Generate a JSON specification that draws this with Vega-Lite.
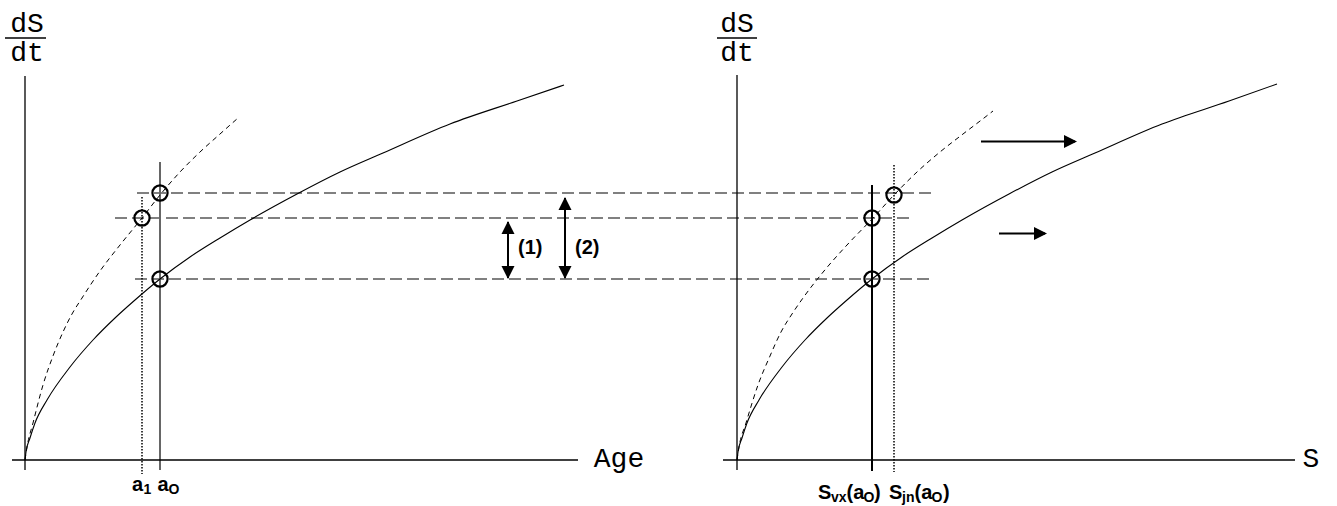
{
  "$schema": "https://vega.github.io/schema/vega-lite/v6.json",
  "width": 1337,
  "height": 506,
  "autosize": {"type": "fit", "contains": "padding"},
  "padding": 0,
  "background": "white",
  "config": {"view": {"stroke": null}},
  "datasets": {
    "levels": [
      {"level": "high", "x": 137, "x2": 931, "y": 193},
      {"level": "mid", "x": 115, "x2": 909, "y": 218},
      {"level": "low", "x": 135, "x2": 930, "y": 279}
    ],
    "guides": [
      {"id": "aO", "x": 160, "top": 162, "bottom": 470},
      {"id": "a1", "x": 142, "top": 197, "bottom": 474},
      {"id": "SvxaO", "x": 872, "top": 185, "bottom": 471},
      {"id": "SjnaO", "x": 894, "top": 165, "bottom": 472}
    ],
    "axes": [
      {"x": 25, "x2": 25, "y": 76, "y2": 470},
      {"x": 12, "x2": 578, "y": 460, "y2": 460},
      {"x": 737, "x2": 737, "y": 75, "y2": 470},
      {"x": 723, "x2": 1295, "y": 460, "y2": 460},
      {"x": 5, "x2": 46, "y": 38, "y2": 38},
      {"x": 717, "x2": 757, "y": 38, "y2": 38}
    ],
    "growth": [
      {"panel": "age", "series": "solid", "x": 25, "y": 460},
      {"panel": "age", "series": "solid", "x": 26, "y": 452},
      {"panel": "age", "series": "solid", "x": 30, "y": 438},
      {"panel": "age", "series": "solid", "x": 35, "y": 423},
      {"panel": "age", "series": "solid", "x": 47, "y": 400},
      {"panel": "age", "series": "solid", "x": 70, "y": 367},
      {"panel": "age", "series": "solid", "x": 93, "y": 340},
      {"panel": "age", "series": "solid", "x": 115, "y": 318},
      {"panel": "age", "series": "solid", "x": 135, "y": 300},
      {"panel": "age", "series": "solid", "x": 160, "y": 279},
      {"panel": "age", "series": "solid", "x": 190, "y": 257},
      {"panel": "age", "series": "solid", "x": 220, "y": 238},
      {"panel": "age", "series": "solid", "x": 250, "y": 220},
      {"panel": "age", "series": "solid", "x": 297, "y": 194},
      {"panel": "age", "series": "solid", "x": 340, "y": 172},
      {"panel": "age", "series": "solid", "x": 383, "y": 153},
      {"panel": "age", "series": "solid", "x": 450, "y": 124},
      {"panel": "age", "series": "solid", "x": 517, "y": 101},
      {"panel": "age", "series": "solid", "x": 564, "y": 85},
      {"panel": "size", "series": "solid", "x": 737, "y": 460},
      {"panel": "size", "series": "solid", "x": 738, "y": 452},
      {"panel": "size", "series": "solid", "x": 742, "y": 438},
      {"panel": "size", "series": "solid", "x": 747, "y": 423},
      {"panel": "size", "series": "solid", "x": 759, "y": 400},
      {"panel": "size", "series": "solid", "x": 782, "y": 367},
      {"panel": "size", "series": "solid", "x": 805, "y": 340},
      {"panel": "size", "series": "solid", "x": 827, "y": 318},
      {"panel": "size", "series": "solid", "x": 847, "y": 300},
      {"panel": "size", "series": "solid", "x": 872, "y": 279},
      {"panel": "size", "series": "solid", "x": 902, "y": 257},
      {"panel": "size", "series": "solid", "x": 932, "y": 238},
      {"panel": "size", "series": "solid", "x": 962, "y": 220},
      {"panel": "size", "series": "solid", "x": 1009, "y": 194},
      {"panel": "size", "series": "solid", "x": 1052, "y": 172},
      {"panel": "size", "series": "solid", "x": 1095, "y": 153},
      {"panel": "size", "series": "solid", "x": 1162, "y": 124},
      {"panel": "size", "series": "solid", "x": 1229, "y": 101},
      {"panel": "size", "series": "solid", "x": 1277, "y": 84},
      {"panel": "age", "series": "dashed", "x": 25, "y": 460},
      {"panel": "age", "series": "dashed", "x": 27, "y": 447},
      {"panel": "age", "series": "dashed", "x": 33, "y": 423},
      {"panel": "age", "series": "dashed", "x": 43, "y": 385},
      {"panel": "age", "series": "dashed", "x": 53, "y": 356},
      {"panel": "age", "series": "dashed", "x": 63, "y": 332},
      {"panel": "age", "series": "dashed", "x": 72, "y": 314},
      {"panel": "age", "series": "dashed", "x": 82, "y": 298},
      {"panel": "age", "series": "dashed", "x": 100, "y": 271},
      {"panel": "age", "series": "dashed", "x": 120, "y": 245},
      {"panel": "age", "series": "dashed", "x": 142, "y": 218},
      {"panel": "age", "series": "dashed", "x": 160, "y": 195},
      {"panel": "age", "series": "dashed", "x": 180, "y": 172},
      {"panel": "age", "series": "dashed", "x": 200, "y": 152},
      {"panel": "age", "series": "dashed", "x": 220, "y": 134},
      {"panel": "age", "series": "dashed", "x": 238, "y": 118},
      {"panel": "size", "series": "dashed", "x": 737, "y": 460},
      {"panel": "size", "series": "dashed", "x": 739, "y": 447},
      {"panel": "size", "series": "dashed", "x": 746, "y": 423},
      {"panel": "size", "series": "dashed", "x": 758, "y": 385},
      {"panel": "size", "series": "dashed", "x": 770, "y": 356},
      {"panel": "size", "series": "dashed", "x": 781, "y": 332},
      {"panel": "size", "series": "dashed", "x": 792, "y": 314},
      {"panel": "size", "series": "dashed", "x": 803, "y": 298},
      {"panel": "size", "series": "dashed", "x": 824, "y": 271},
      {"panel": "size", "series": "dashed", "x": 847, "y": 245},
      {"panel": "size", "series": "dashed", "x": 873, "y": 218},
      {"panel": "size", "series": "dashed", "x": 894, "y": 195},
      {"panel": "size", "series": "dashed", "x": 917, "y": 172},
      {"panel": "size", "series": "dashed", "x": 940, "y": 152},
      {"panel": "size", "series": "dashed", "x": 963, "y": 134},
      {"panel": "size", "series": "dashed", "x": 984, "y": 118},
      {"panel": "size", "series": "dashed", "x": 993, "y": 111}
    ],
    "intersections": [
      {"x": 160, "y": 193},
      {"x": 142, "y": 218},
      {"x": 160, "y": 279},
      {"x": 894, "y": 195},
      {"x": 872, "y": 218},
      {"x": 872, "y": 279}
    ],
    "shafts": [
      {"x": 508, "x2": 508, "y": 222, "y2": 278},
      {"x": 565, "x2": 565, "y": 198, "y2": 278},
      {"x": 981, "x2": 1075, "y": 141.5, "y2": 141.5},
      {"x": 999, "x2": 1045, "y": 233.5, "y2": 233.5}
    ],
    "heads": [
      {"dir": "up", "x": 508, "y": 221},
      {"dir": "down", "x": 508, "y": 279},
      {"dir": "up", "x": 565, "y": 197},
      {"dir": "down", "x": 565, "y": 279},
      {"dir": "right", "x": 1077, "y": 141.5},
      {"dir": "right", "x": 1047, "y": 233.5}
    ],
    "monoText": [
      {"t": "dS", "x": 27, "y": 32},
      {"t": "dt", "x": 27, "y": 61},
      {"t": "Age", "x": 619, "y": 467},
      {"t": "dS", "x": 737, "y": 32},
      {"t": "dt", "x": 737, "y": 61},
      {"t": "S", "x": 1311, "y": 467}
    ],
    "boldText": [
      {"t": "(1)", "x": 518, "y": 254},
      {"t": "(2)", "x": 575, "y": 254},
      {"t": "a", "x": 132, "y": 491},
      {"t": "a", "x": 157.5, "y": 491},
      {"t": "S", "x": 818, "y": 499},
      {"t": "(a", "x": 846.5, "y": 499},
      {"t": ")", "x": 874, "y": 499},
      {"t": "S", "x": 889, "y": 499},
      {"t": "(a", "x": 914.5, "y": 499},
      {"t": ")", "x": 943, "y": 499}
    ],
    "subText": [
      {"t": "1", "x": 143.5, "y": 494},
      {"t": "O", "x": 168.5, "y": 494},
      {"t": "vx", "x": 831, "y": 502},
      {"t": "O", "x": 863.5, "y": 502},
      {"t": "jn", "x": 902, "y": 502},
      {"t": "O", "x": 931.5, "y": 502}
    ]
  },
  "layer": [
    {
      "data": {"name": "levels"},
      "mark": {"type": "rule", "color": "#808080", "strokeWidth": 2, "strokeDash": [12, 5]},
      "encoding": {
        "x": {"field": "x", "type": "quantitative", "scale": {"domain": [0, 1337], "nice": false, "zero": false}, "axis": null},
        "x2": {"field": "x2"},
        "y": {"field": "y", "type": "quantitative", "scale": {"domain": [0, 506], "nice": false, "zero": false, "reverse": true}, "axis": null}
      }
    },
    {
      "data": {"name": "guides"},
      "transform": [{"filter": "datum.id === 'aO'"}],
      "mark": {"type": "rule", "color": "#666666", "strokeWidth": 2},
      "encoding": {
        "x": {"field": "x", "type": "quantitative"},
        "y": {"field": "top", "type": "quantitative"},
        "y2": {"field": "bottom"}
      }
    },
    {
      "data": {"name": "guides"},
      "transform": [{"filter": "datum.id === 'SvxaO'"}],
      "mark": {"type": "rule", "color": "#000000", "strokeWidth": 2},
      "encoding": {
        "x": {"field": "x", "type": "quantitative"},
        "y": {"field": "top", "type": "quantitative"},
        "y2": {"field": "bottom"}
      }
    },
    {
      "data": {"name": "guides"},
      "transform": [{"filter": "datum.id === 'a1' || datum.id === 'SjnaO'"}],
      "mark": {"type": "rule", "color": "#000000", "strokeWidth": 1.5, "strokeDash": [1.5, 1.5]},
      "encoding": {
        "x": {"field": "x", "type": "quantitative"},
        "y": {"field": "top", "type": "quantitative"},
        "y2": {"field": "bottom"}
      }
    },
    {
      "data": {"name": "axes"},
      "mark": {"type": "rule", "color": "#000000", "strokeWidth": 1.3},
      "encoding": {
        "x": {"field": "x", "type": "quantitative"},
        "x2": {"field": "x2"},
        "y": {"field": "y", "type": "quantitative"},
        "y2": {"field": "y2"}
      }
    },
    {
      "data": {"name": "growth"},
      "transform": [{"filter": "datum.series === 'solid'"}],
      "mark": {"type": "line", "color": "#000000", "strokeWidth": 1.1, "interpolate": "monotone"},
      "encoding": {
        "x": {"field": "x", "type": "quantitative"},
        "y": {"field": "y", "type": "quantitative"},
        "detail": {"field": "panel"}
      }
    },
    {
      "data": {"name": "growth"},
      "transform": [{"filter": "datum.series === 'dashed'"}],
      "mark": {"type": "line", "color": "#000000", "strokeWidth": 1, "strokeDash": [5, 4], "interpolate": "monotone"},
      "encoding": {
        "x": {"field": "x", "type": "quantitative"},
        "y": {"field": "y", "type": "quantitative"},
        "detail": {"field": "panel"}
      }
    },
    {
      "data": {"name": "intersections"},
      "mark": {"type": "point", "shape": "circle", "filled": false, "stroke": "#000000", "strokeWidth": 2.2, "size": 230, "opacity": 1},
      "encoding": {
        "x": {"field": "x", "type": "quantitative"},
        "y": {"field": "y", "type": "quantitative"}
      }
    },
    {
      "data": {"name": "shafts"},
      "mark": {"type": "rule", "color": "#000000", "strokeWidth": 2},
      "encoding": {
        "x": {"field": "x", "type": "quantitative"},
        "x2": {"field": "x2"},
        "y": {"field": "y", "type": "quantitative"},
        "y2": {"field": "y2"}
      }
    },
    {
      "data": {"name": "heads"},
      "mark": {"type": "point", "filled": true, "color": "#000000", "size": 169, "opacity": 1},
      "encoding": {
        "x": {"field": "x", "type": "quantitative"},
        "y": {"field": "y", "type": "quantitative"},
        "shape": {"field": "dir", "type": "nominal", "legend": null, "scale": {"domain": ["up", "down", "right"], "range": ["M0,0L-1,2L1,2Z", "M0,0L-1,-2L1,-2Z", "M0,0L-2,-1L-2,1Z"]}}
      }
    },
    {
      "data": {"name": "monoText"},
      "mark": {"type": "text", "font": "Liberation Mono", "fontSize": 28, "align": "center", "baseline": "alphabetic", "color": "#000000"},
      "encoding": {
        "x": {"field": "x", "type": "quantitative"},
        "y": {"field": "y", "type": "quantitative"},
        "text": {"field": "t"}
      }
    },
    {
      "data": {"name": "boldText"},
      "mark": {"type": "text", "font": "Liberation Sans", "fontWeight": "bold", "fontSize": 20, "align": "left", "baseline": "alphabetic", "color": "#000000"},
      "encoding": {
        "x": {"field": "x", "type": "quantitative"},
        "y": {"field": "y", "type": "quantitative"},
        "text": {"field": "t"}
      }
    },
    {
      "data": {"name": "subText"},
      "mark": {"type": "text", "font": "Liberation Sans", "fontWeight": "bold", "fontSize": 14, "align": "left", "baseline": "alphabetic", "color": "#000000"},
      "encoding": {
        "x": {"field": "x", "type": "quantitative"},
        "y": {"field": "y", "type": "quantitative"},
        "text": {"field": "t"}
      }
    }
  ]
}
